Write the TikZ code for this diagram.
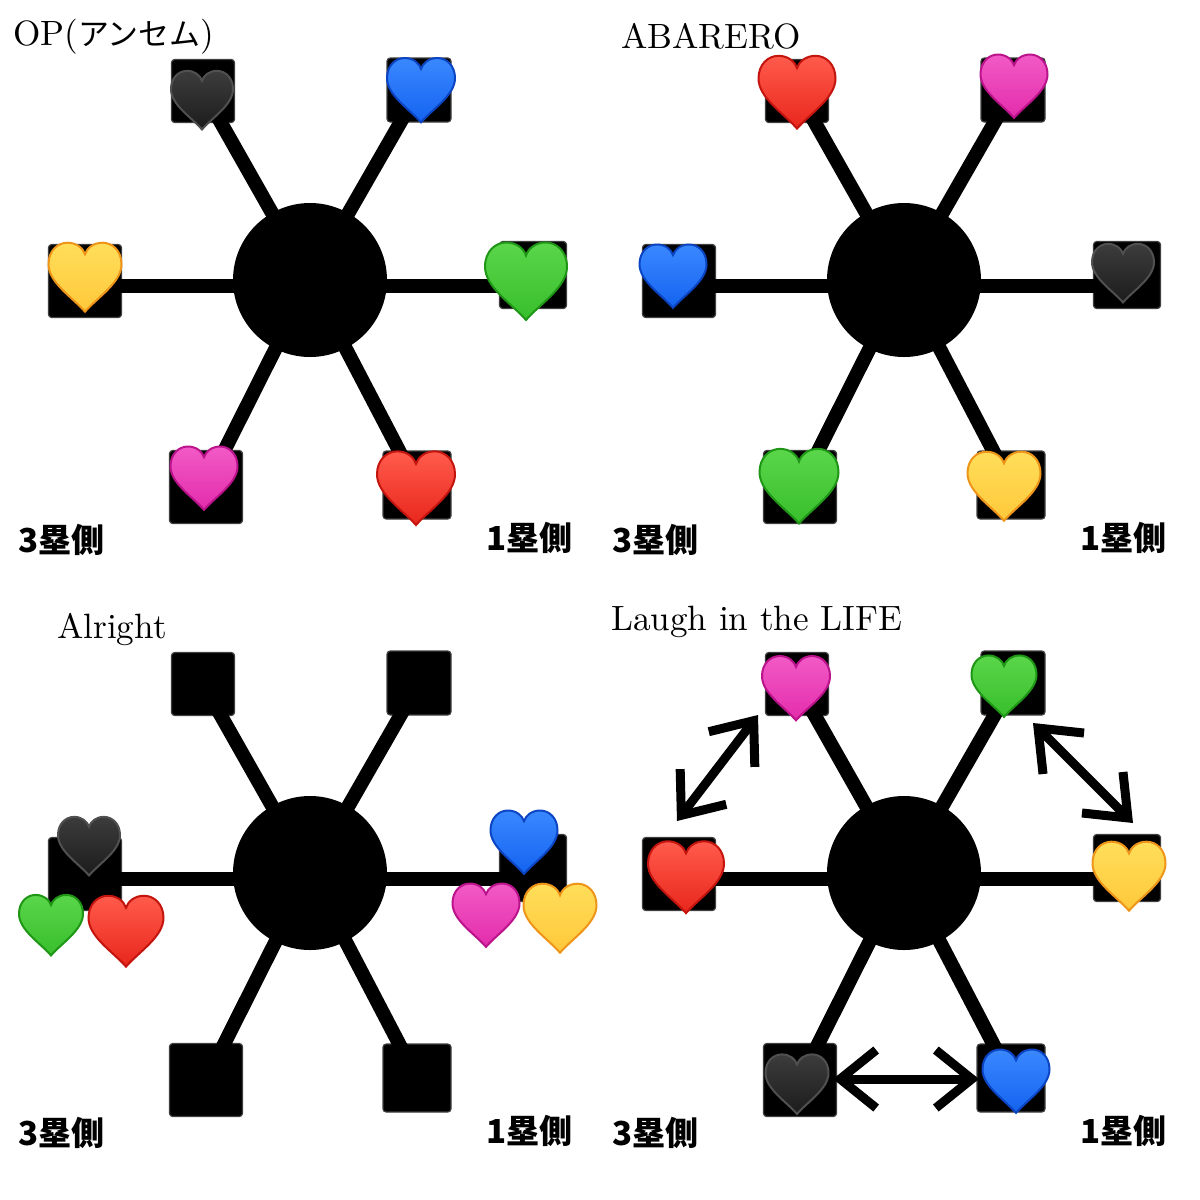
\documentclass[tikz,border=0pt]{standalone}
\usepackage{fontspec}
\newfontfamily\jpfont{Noto Sans CJK JP}
\newfontfamily\songfont{lmroman10-regular.otf}
\usepackage{tikz}
\usetikzlibrary{arrows.meta}
\usepackage{xcolor}

% heart colours: L top, F bottom, E edge
\definecolor{hredL}{HTML}{FF5B4C}    \definecolor{hredF}{HTML}{E8261C}    \definecolor{hredE}{HTML}{C4140E}
\definecolor{hblueL}{HTML}{3A88FF}   \definecolor{hblueF}{HTML}{1463F0}   \definecolor{hblueE}{HTML}{0C45C4}
\definecolor{hgreenL}{HTML}{5AD64A}  \definecolor{hgreenF}{HTML}{38BE2C}  \definecolor{hgreenE}{HTML}{1F9616}
\definecolor{hyellowL}{HTML}{FFDE5A} \definecolor{hyellowF}{HTML}{FFC83A} \definecolor{hyellowE}{HTML}{EE9419}
\definecolor{hpinkL}{HTML}{F25AC6}   \definecolor{hpinkF}{HTML}{E32CAB}   \definecolor{hpinkE}{HTML}{BB138C}
\definecolor{hblackL}{HTML}{3C3C3C}  \definecolor{hblackF}{HTML}{1C1C1C}  \definecolor{hblackE}{HTML}{505050}

\tikzset{
  pics/heart/.style={code={
    \draw[line width=0.5mm, draw=#1E, top color=#1L, bottom color=#1F]
      (0,0.95) .. controls (-0.35,0.55) and (-1,0.15) .. (-1,-0.35)
      .. controls (-1,-0.72) and (-0.75,-0.94) .. (-0.48,-0.94)
      .. controls (-0.22,-0.94) and (-0.05,-0.78) .. (0,-0.62)
      .. controls (0.05,-0.78) and (0.22,-0.94) .. (0.48,-0.94)
      .. controls (0.75,-0.94) and (1,-0.72) .. (1,-0.35)
      .. controls (1,0.15) and (0.35,0.55) .. (0,0.95) -- cycle;
  }}
}

\begin{document}
\begin{tikzpicture}[x=0.25mm, y=-0.25mm,
  hub/.style={circle, fill=black, inner sep=0pt, minimum size=38.5mm},
  plate/.style={rectangle, fill=black, draw=black!75, line width=0.3mm, inner sep=0pt, rounded corners=0.8mm},
  spoke/.style={line width=3.5mm, black},
  songname/.style={anchor=base west, inner sep=0pt, font=\songfont\fontsize{25}{30}\selectfont},
  basetext/.style={anchor=base west, inner sep=0pt, font=\jpfont\bfseries\fontsize{23.5}{28}\selectfont},
  swaparrow/.style={line width=2.25mm,
    {Straight Barb[length=9mm,width=14.5mm]}-{Straight Barb[length=9mm,width=14.5mm]}}]
\useasboundingbox (0,0) rectangle (1200,1200);

% the four fields
\foreach \p/\dx/\dy in {1/0/0, 2/594/0, 3/0/593, 4/594/593}{
  \begin{scope}[shift={(\dx,\dy)}]
    \node[hub] (c\p) at (310,280) {};
    \node[plate, minimum size=15.75mm] (s\p a) at (203,91) {};
    \node[plate, minimum size=16mm] (s\p b) at (419,90) {};
    \node[plate, minimum size=18.25mm] (s\p c) at (85,281) {};
    \node[plate, minimum size=16.75mm] (s\p d) at (533,275) {};
    \node[plate, minimum size=18.25mm] (s\p e) at (206,487) {};
    \node[plate, minimum size=17mm] (s\p f) at (417,485) {};
    \foreach \s in {a,b,e,f}
      \draw[spoke] (c\p.center) -- (s\p\s.center);
    \draw[spoke] ([yshift=-1.5mm]c\p.center) -- ([yshift=-1.5mm]c\p.center -| s\p c.center);
    \draw[spoke] ([yshift=-1.5mm]c\p.center) -- ([yshift=-1.5mm]c\p.center -| s\p d.center);
    \node[basetext] (l\p) at (18,552) {3塁側};
    \node[basetext] (r\p) at (486,550) {1塁側};
  \end{scope}
}

\node[songname] (t1) at (13,45) {OP({\jpfont\fontsize{22}{26}\selectfont アンセム})};
\node[songname] (t2) at (621,48) {ABARERO};
\node[songname] (t3) at (57,638) {Alright};
\node[songname] (t4) at (611,630) {Laugh in the LIFE};

% OP
\pic[scale=31] at (202,100) {heart=hblack};
\pic[scale=34] at (421,90) {heart=hblue};
\pic[scale=36.5] at (85,277) {heart=hyellow};
\pic[scale=41] at (526,281) {heart=hgreen};
\pic[scale=33.5] at (204,478) {heart=hpink};
\pic[scale=39] at (416,488) {heart=hred};

% ABARERO
\pic[scale=38.5] at (797,92) {heart=hred};
\pic[scale=33.5] at (1014,86) {heart=hpink};
\pic[scale=33.5] at (673,276) {heart=hblue};
\pic[scale=31] at (1123,273) {heart=hblack};
\pic[scale=39.5] at (799,486) {heart=hgreen};
\pic[scale=36.5] at (1004,486) {heart=hyellow};

% Alright
\pic[scale=31] at (89,846) {heart=hblack};
\pic[scale=32] at (51,925) {heart=hgreen};
\pic[scale=37.5] at (126,931) {heart=hred};
\pic[scale=33.5] at (524,842) {heart=hblue};
\pic[scale=33.5] at (486,915) {heart=hpink};
\pic[scale=36.5] at (560,918) {heart=hyellow};

% Laugh in the LIFE
\pic[scale=34] at (796,688) {heart=hpink};
\pic[scale=32.5] at (1004,686) {heart=hgreen};
\pic[scale=38] at (686,877) {heart=hred};
\pic[scale=36.5] at (1129,876) {heart=hyellow};
\pic[scale=31.5] at (797,1084) {heart=hblack};
\pic[scale=33.5] at (1016,1081) {heart=hblue};

\coordinate (p1) at (758,715);
\coordinate (p2) at (677,821);
\coordinate (q1) at (1033,723);
\coordinate (q2) at (1133,823);
\coordinate (u1) at (833,1079);
\coordinate (u2) at (979,1079);
\draw[swaparrow] (p1) -- (p2);
\draw[swaparrow] (q1) -- (q2);
\draw[swaparrow] (u1) -- (u2);

\end{tikzpicture}
\end{document}
